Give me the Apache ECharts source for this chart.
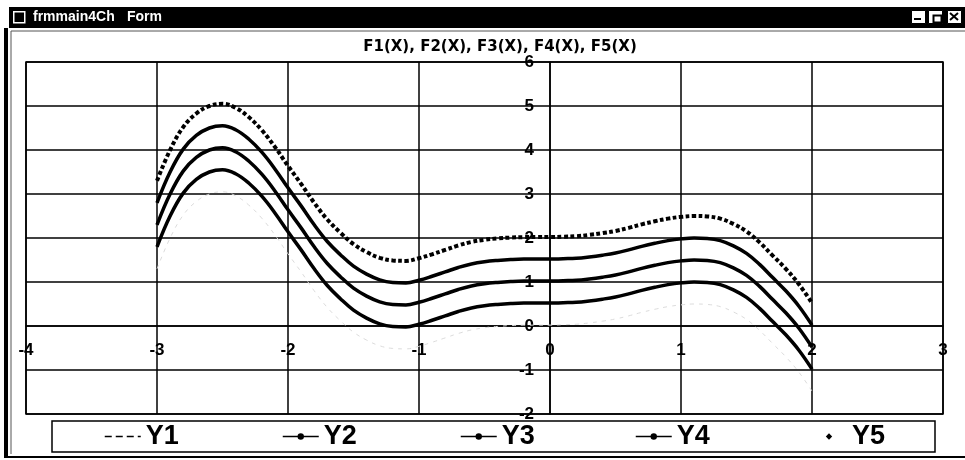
<!DOCTYPE html>
<html>
<head>
<meta charset="utf-8">
<script src="https://cdn.jsdelivr.net/npm/echarts@6/dist/echarts.min.js"></script>
<style>
html,body{margin:0;padding:0;background:#fff;}
#chart{width:965px;height:460px;}
</style>
</head>
<body>
<div id="chart"></div>
<script>
// ---- data ----
const chartTitle = 'F1(X), F2(X), F3(X), F4(X), F5(X)';
const windowTitle = 'frmmain4Ch';
const windowTitle2 = 'Form';
const seriesNames = ['Y1', 'Y2', 'Y3', 'Y4', 'Y5'];
const xValues = [-3.0,-2.9,-2.8,-2.7,-2.6,-2.5,-2.4,-2.3,-2.2,-2.1,-2.0,-1.9,-1.8,-1.7,-1.6,-1.5,-1.4,-1.3,-1.2,-1.1,-1.0,-0.9,-0.8,-0.7,-0.6,-0.5,-0.4,-0.3,-0.2,-0.1,0.0,0.1,0.2,0.3,0.4,0.5,0.6,0.7,0.8,0.9,1.0,1.1,1.2,1.3,1.4,1.5,1.6,1.7,1.8,1.9,2.0];
const y1 = [1.30,2.00,2.52,2.83,3.00,3.05,2.96,2.75,2.45,2.07,1.64,1.23,0.80,0.42,0.12,-0.14,-0.32,-0.45,-0.51,-0.52,-0.46,-0.37,-0.27,-0.17,-0.09,-0.04,-0.01,0.01,0.02,0.02,0.02,0.03,0.04,0.07,0.11,0.16,0.23,0.31,0.38,0.44,0.48,0.50,0.49,0.44,0.32,0.15,-0.10,-0.40,-0.70,-1.05,-1.48];
const y2 = [1.80,2.50,3.02,3.33,3.50,3.55,3.46,3.25,2.95,2.57,2.14,1.73,1.30,0.92,0.62,0.36,0.18,0.05,-0.01,-0.02,0.04,0.13,0.23,0.33,0.41,0.46,0.49,0.51,0.52,0.52,0.52,0.53,0.54,0.57,0.61,0.66,0.73,0.81,0.88,0.94,0.98,1.00,0.99,0.94,0.82,0.65,0.40,0.10,-0.20,-0.55,-0.98];
const y3 = [2.30,3.00,3.52,3.83,4.00,4.05,3.96,3.75,3.45,3.07,2.64,2.23,1.80,1.42,1.12,0.86,0.68,0.55,0.49,0.48,0.54,0.63,0.73,0.83,0.91,0.96,0.99,1.01,1.02,1.02,1.02,1.03,1.04,1.07,1.11,1.16,1.23,1.31,1.38,1.44,1.48,1.50,1.49,1.44,1.32,1.15,0.90,0.60,0.30,-0.05,-0.48];
const y4 = [2.80,3.50,4.02,4.33,4.50,4.55,4.46,4.25,3.95,3.57,3.14,2.73,2.30,1.92,1.62,1.36,1.18,1.05,0.99,0.98,1.04,1.13,1.23,1.33,1.41,1.46,1.49,1.51,1.52,1.52,1.52,1.53,1.54,1.57,1.61,1.66,1.73,1.81,1.88,1.94,1.98,2.00,1.99,1.94,1.82,1.65,1.40,1.10,0.80,0.45,0.02];
const y5 = [3.30,4.00,4.52,4.83,5.00,5.05,4.96,4.75,4.45,4.07,3.64,3.23,2.80,2.42,2.12,1.86,1.68,1.55,1.49,1.48,1.54,1.63,1.73,1.83,1.91,1.96,1.99,2.01,2.02,2.02,2.02,2.03,2.04,2.07,2.11,2.16,2.23,2.31,2.38,2.44,2.48,2.50,2.49,2.44,2.32,2.15,1.90,1.60,1.30,0.95,0.52];
const xMin = -4, xMax = 3, yMin = -2, yMax = 6;

const pairs = (ys) => xValues.map((x, i) => [x, ys[i]]);
const FONT = "'Liberation Sans', Arial, sans-serif";

// layout
const W = 965, H = 460;
const G = {left: 26, right: 22, top: 62, bottom: 46};
const plotW = W - G.left - G.right, plotH = H - G.top - G.bottom;
// shift the axes so they cross at the origin
const xAxisOffset = -plotH * (0 - yMin) / (yMax - yMin);
const yAxisOffset = -plotW * (0 - xMin) / (xMax - xMin);

const legendLefts = [104, 282, 460, 635, 811];
const legendStyles = {
  Y1: {lineStyle: {color: '#000', width: 1.5, type: [7, 4]}, itemStyle: {color: 'rgba(0,0,0,0)', borderWidth: 0}},
  Y2: {lineStyle: {color: '#000', width: 1.5, type: 'solid'}, itemStyle: {color: '#000'}},
  Y3: {lineStyle: {color: '#000', width: 1.5, type: 'solid'}, itemStyle: {color: '#000'}},
  Y4: {lineStyle: {color: '#000', width: 1.5, type: 'solid'}, itemStyle: {color: '#000'}},
  Y5: {lineStyle: {color: 'rgba(0,0,0,0)', width: 0}, itemStyle: {color: '#000'}}
};

const chart = echarts.init(document.getElementById('chart'), null, {renderer: 'canvas'});
const option = {
  animation: false,
  backgroundColor: '#ffffff',
  grid: {left: G.left, right: G.right, top: G.top, bottom: G.bottom, containLabel: false, outerBoundsMode: 'none',
         show: true, borderColor: '#000', borderWidth: 1.5, backgroundColor: 'transparent'},
  xAxis: {
    type: 'value', min: xMin, max: xMax, interval: 1, position: 'bottom', offset: xAxisOffset,
    axisLine: {onZero: false, lineStyle: {color: '#000', width: 1.5}},
    axisTick: {show: false},
    splitLine: {show: true, lineStyle: {color: '#000', width: 1.5}},
    axisLabel: {color: '#000', fontFamily: FONT, fontWeight: 'bold', fontSize: 17, margin: 16, showMinLabel: true, showMaxLabel: true, hideOverlap: false}
  },
  yAxis: {
    type: 'value', min: yMin, max: yMax, interval: 1, position: 'left', offset: yAxisOffset,
    axisLine: {onZero: false, lineStyle: {color: '#000', width: 1.5}},
    axisTick: {show: false},
    splitLine: {show: true, lineStyle: {color: '#000', width: 1.5}},
    axisLabel: {color: '#000', fontFamily: FONT, fontWeight: 'bold', fontSize: 17, margin: 16, showMinLabel: true, showMaxLabel: true, hideOverlap: false}
  },
  legend: seriesNames.map((n, i) => ({
    left: legendLefts[i], top: 423, padding: 0, itemGap: 0, itemWidth: 36, itemHeight: 8,
    textStyle: {color: '#000', fontFamily: FONT, fontWeight: 'bold', fontSize: 27},
    selectedMode: false,
    data: [Object.assign({name: n}, legendStyles[n])]
  })),
  series: [
    {name: 'Y1', type: 'line', data: pairs(y1), smooth: 0.4, symbol: 'none', showSymbol: false, color: '#000',
     lineStyle: {color: '#dcdcdc', width: 1, type: [4, 5]}, z: 1},
    {name: 'Y2', type: 'line', data: pairs(y2), smooth: 0.4, symbol: 'circle', showSymbol: false, color: '#000',
     lineStyle: {color: '#000', width: 3.5}},
    {name: 'Y3', type: 'line', data: pairs(y3), smooth: 0.4, symbol: 'circle', showSymbol: false, color: '#000',
     lineStyle: {color: '#000', width: 3.5}},
    {name: 'Y4', type: 'line', data: pairs(y4), smooth: 0.4, symbol: 'circle', showSymbol: false, color: '#000',
     lineStyle: {color: '#000', width: 3.5}},
    {name: 'Y5', type: 'line', data: pairs(y5), smooth: 0.4, symbol: 'diamond', showSymbol: false, color: '#000',
     lineStyle: {color: '#000', width: 4, type: [4, 2.5]}}
  ],
  graphic: [
    // window title bar
    {type: 'rect', left: 9, top: 7, shape: {width: 956, height: 21}, style: {fill: '#000'}, silent: true},
    {type: 'rect', left: 13, top: 11, shape: {width: 11, height: 11}, style: {fill: '#000', stroke: '#fff', lineWidth: 1.5}, silent: true},
    {type: 'text', left: 33, top: 10, style: {text: windowTitle, fill: '#fff', font: "bold 14px 'Liberation Sans', Arial"}, silent: true},
    {type: 'text', left: 127, top: 10, style: {text: windowTitle2, fill: '#fff', font: "bold 14px 'Liberation Sans', Arial"}, silent: true},
    {type: 'rect', left: 911, top: 10, shape: {width: 14, height: 13}, style: {fill: '#fff', stroke: '#000', lineWidth: 1}, silent: true},
    {type: 'rect', left: 928, top: 10, shape: {width: 14, height: 13}, style: {fill: '#fff', stroke: '#000', lineWidth: 1}, silent: true},
    {type: 'rect', left: 947, top: 10, shape: {width: 14, height: 13}, style: {fill: '#fff', stroke: '#000', lineWidth: 1}, silent: true},
    {type: 'rect', left: 931, top: 13, shape: {width: 8, height: 7}, style: {fill: 'none', stroke: '#000', lineWidth: 2}, silent: true},
    {type: 'line', shape: {x1: 950, y1: 13, x2: 958, y2: 20}, style: {stroke: '#000', lineWidth: 2}, silent: true},
    {type: 'line', shape: {x1: 958, y1: 13, x2: 950, y2: 20}, style: {stroke: '#000', lineWidth: 2}, silent: true},
    {type: 'line', shape: {x1: 914, y1: 19, x2: 921, y2: 19}, style: {stroke: '#000', lineWidth: 2}, silent: true},
    // window frame
    {type: 'rect', left: 4, top: 28, shape: {width: 4, height: 430}, style: {fill: '#000'}, silent: true},
    {type: 'rect', left: 4, top: 456, shape: {width: 961, height: 2}, style: {fill: '#000'}, silent: true},
    {type: 'line', shape: {x1: 11, y1: 31, x2: 965, y2: 31}, style: {stroke: '#555', lineWidth: 1}, silent: true},
    {type: 'line', shape: {x1: 11, y1: 31, x2: 11, y2: 454}, style: {stroke: '#555', lineWidth: 1}, silent: true},
    // chart title
    {type: 'text', x: 500, y: 47, style: {text: chartTitle, fill: '#000', font: "bold 15px 'DejaVu Sans', sans-serif", textAlign: 'center', textVerticalAlign: 'middle'}, silent: true},
    // legend box
    {type: 'rect', shape: {x: 52, y: 421, width: 883, height: 31}, style: {fill: 'none', stroke: '#000', lineWidth: 1.5}, silent: true, z: 10}
  ]
};
chart.setOption(option);
</script>
</body>
</html>
